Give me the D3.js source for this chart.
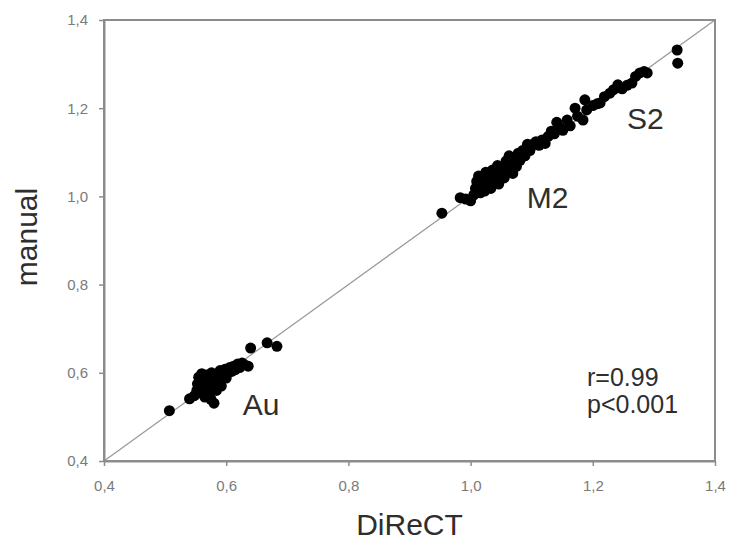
<!doctype html>
<html>
  <head>
    <meta charset="utf-8" />
    <title>DiReCT vs manual</title>
    <script type="text/javascript" src="https://cdnjs.cloudflare.com/ajax/libs/d3/7.8.5/d3.min.js"></script>
    <style>
      body {
        margin:0;
        background:#fff;
        font-family:"Liberation Sans", Arial, sans-serif;
      }
      .chart > svg {
        display:block;
      }
    </style>
  </head>
  <body>
    <div class="chart"></div>
    <script type="text/javascript">

/*axis ticks and limits*/
var tick_values = [0.4, 0.6, 0.8, 1.0, 1.2, 1.4];
var axis_domain = [0.4, 1.4];

/*Au group: [DiReCT, manual]*/
var au_points = [
  [0.507, 0.514], [0.540, 0.541], [0.548, 0.548], [0.552, 0.560], [0.553, 0.575],
  [0.555, 0.590], [0.557, 0.583], [0.558, 0.565], [0.560, 0.555], [0.560, 0.598],
  [0.562, 0.572], [0.563, 0.588], [0.565, 0.545], [0.566, 0.560], [0.567, 0.578],
  [0.568, 0.595], [0.570, 0.552], [0.572, 0.567], [0.573, 0.585], [0.575, 0.540],
  [0.576, 0.600], [0.580, 0.531], [0.580, 0.575], [0.582, 0.590], [0.584, 0.560],
  [0.586, 0.598], [0.588, 0.582], [0.590, 0.605], [0.592, 0.570], [0.595, 0.595],
  [0.598, 0.608], [0.600, 0.588], [0.603, 0.600], [0.606, 0.612], [0.609, 0.603],
  [0.612, 0.615], [0.615, 0.607], [0.619, 0.620], [0.622, 0.612], [0.626, 0.622],
  [0.630, 0.618], [0.636, 0.615], [0.640, 0.656], [0.667, 0.668], [0.683, 0.660]
];

/*M2 group*/
var m2_points = [
  [0.953, 0.962], [0.983, 0.997], [0.992, 0.994], [1.000, 0.990], [1.005, 1.003],
  [1.008, 1.018], [1.010, 1.034], [1.013, 1.046], [1.016, 1.008], [1.018, 1.024],
  [1.021, 1.040], [1.023, 1.012], [1.025, 1.055], [1.028, 1.028], [1.031, 1.045],
  [1.033, 1.018], [1.036, 1.060], [1.039, 1.034], [1.041, 1.050], [1.044, 1.070],
  [1.046, 1.028], [1.049, 1.046], [1.052, 1.066], [1.055, 1.042], [1.058, 1.080],
  [1.060, 1.058], [1.063, 1.092], [1.066, 1.072], [1.069, 1.052], [1.072, 1.086],
  [1.075, 1.068], [1.078, 1.098], [1.081, 1.082], [1.085, 1.104], [1.089, 1.092],
  [1.093, 1.118], [1.097, 1.104], [1.102, 1.118], [1.107, 1.124], [1.112, 1.116],
  [1.117, 1.128], [1.122, 1.120], [1.127, 1.136], [1.132, 1.148], [1.137, 1.142]
];

/*S2 group*/
var s2_points = [
  [1.141, 1.168], [1.146, 1.156], [1.151, 1.150], [1.158, 1.173], [1.163, 1.160],
  [1.171, 1.200], [1.175, 1.182], [1.184, 1.173], [1.187, 1.219], [1.190, 1.196],
  [1.200, 1.206], [1.207, 1.210], [1.212, 1.212], [1.219, 1.226], [1.228, 1.234],
  [1.234, 1.242], [1.241, 1.253], [1.248, 1.244], [1.256, 1.252], [1.264, 1.257],
  [1.270, 1.272], [1.277, 1.280], [1.284, 1.283], [1.289, 1.280], [1.338, 1.332],
  [1.339, 1.302]
];

/*text placed in the plot: [label, x, y] in data units*/
var group_labels = [
  ["Au", 0.627, 0.504],
  ["M2", 1.092, 0.974],
  ["S2", 1.256, 1.153]
];
var stat_lines = ["r=0.99", "p<0.001"];

var g = {};
g.width = 748;
g.height = 542;
g.margin = {top: 20, right: 33, bottom: 81, left: 104};

function main() {
  var m = g.margin;
  var w = g.width - m.left - m.right;
  var h = g.height - m.top - m.bottom;

  var svg = d3.select(".chart").append("svg")
    .attr("width", g.width)
    .attr("height", g.height);

  var plot = svg.append("g")
    .attr("transform", "translate(" + m.left + "," + m.top + ")");

  var x = d3.scaleLinear().domain(axis_domain).range([0, w]);
  var y = d3.scaleLinear().domain(axis_domain).range([h, 0]);

  /*comma decimal separators*/
  var fmt = function(d) { return d3.format(".1f")(d).replace(".", ","); };

  /*identity line*/
  plot.append("line")
    .attr("x1", x(axis_domain[0])).attr("y1", y(axis_domain[0]))
    .attr("x2", x(axis_domain[1])).attr("y2", y(axis_domain[1]))
    .attr("stroke", "#9a9a9a")
    .attr("stroke-width", 1.3);

  /*frame top and right*/
  plot.append("rect")
    .attr("x", 0).attr("y", 0)
    .attr("width", w).attr("height", h)
    .attr("fill", "none")
    .attr("stroke", "#8c8c8c")
    .attr("stroke-width", 2);

  var xAxis = plot.append("g")
    .attr("transform", "translate(0," + h + ")")
    .call(d3.axisBottom(x).tickValues(tick_values).tickFormat(fmt)
      .tickSize(5).tickSizeOuter(0).tickPadding(14));

  var yAxis = plot.append("g")
    .call(d3.axisLeft(y).tickValues(tick_values).tickFormat(fmt)
      .tickSize(5).tickSizeOuter(0).tickPadding(11));

  [xAxis, yAxis].forEach(function(ax) {
    ax.select(".domain").attr("stroke", "#8c8c8c").attr("stroke-width", 2);
    ax.selectAll(".tick line").attr("stroke", "#8c8c8c").attr("stroke-width", 1.5);
    ax.selectAll(".tick text")
      .attr("fill", "#7a7a7a")
      .style("font-size", "15px")
      .style("font-family", "'Liberation Sans', Arial, sans-serif");
  });

  /*dots*/
  var all_points = au_points.concat(m2_points, s2_points);
  plot.selectAll("circle.dot")
    .data(all_points)
    .enter()
    .append("circle")
    .attr("class", "dot")
    .attr("cx", function(d) { return x(d[0]); })
    .attr("cy", function(d) { return y(d[1]); })
    .attr("r", 5.5)
    .attr("fill", "#000");

  /*group labels*/
  plot.selectAll("text.group")
    .data(group_labels)
    .enter()
    .append("text")
    .attr("class", "group")
    .attr("x", function(d) { return x(d[1]); })
    .attr("y", function(d) { return y(d[2]); })
    .attr("fill", "#2e2e2e")
    .style("font-size", "30px")
    .text(function(d) { return d[0]; });

  /*stats*/
  plot.selectAll("text.stat")
    .data(stat_lines)
    .enter()
    .append("text")
    .attr("class", "stat")
    .attr("x", 483)
    .attr("y", function(d, i) { return 366 + i * 27; })
    .attr("fill", "#2e2e2e")
    .style("font-size", "25px")
    .text(function(d) { return d; });

  /*axis titles*/
  svg.append("text")
    .attr("x", m.left + w / 2)
    .attr("y", 535)
    .attr("text-anchor", "middle")
    .attr("fill", "#2e2e2e")
    .style("font-size", "30px")
    .text("DiReCT");

  svg.append("text")
    .attr("transform", "translate(37,237) rotate(-90)")
    .attr("text-anchor", "middle")
    .attr("fill", "#2e2e2e")
    .style("font-size", "30px")
    .text("manual");
}

document.addEventListener("DOMContentLoaded", main);

    </script>
  </body>
</html>
